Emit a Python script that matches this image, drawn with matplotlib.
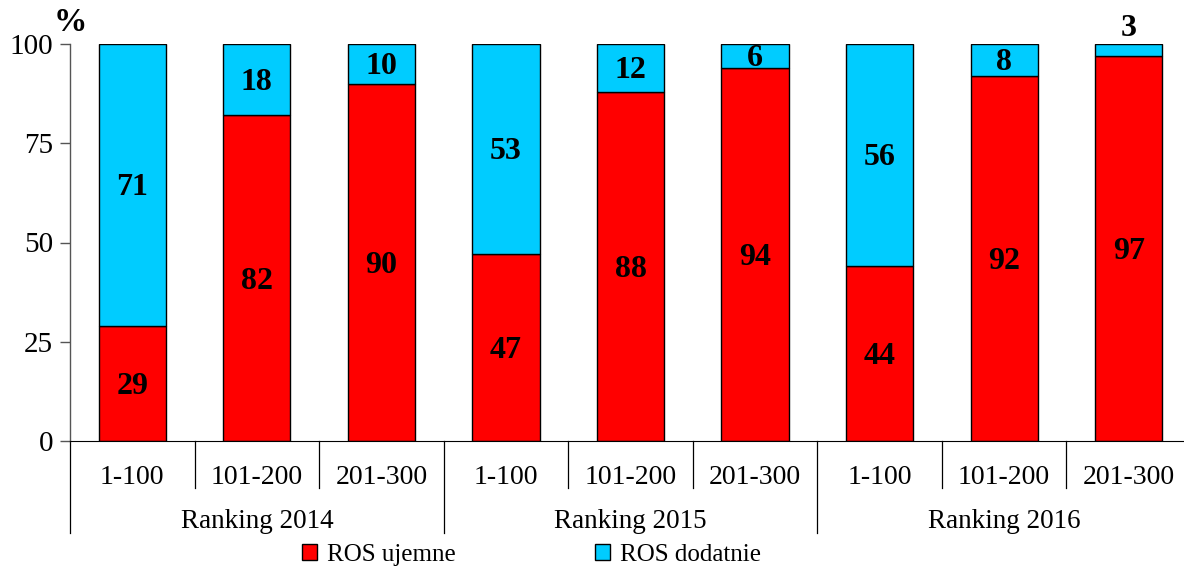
import matplotlib.pyplot as plt
import numpy as np

plt.rcParams['font.family'] = ['Liberation Serif', 'DejaVu Serif']

groups = ['Ranking 2014', 'Ranking 2015', 'Ranking 2016']
ranges = ['1-100', '101-200', '201-300']
ujemne = [29, 82, 90, 47, 88, 94, 44, 92, 97]
dodatnie = [71, 18, 10, 53, 12, 6, 56, 8, 3]

red = '#FF0000'
cyan = '#00CCFF'

fig = plt.figure(figsize=(11.84, 5.67), dpi=100)
ax = fig.add_axes([70 / 1184, 1 - 441 / 567, 1121 / 1184, 397 / 567])

x = np.arange(len(ujemne))
w = 0.54
ax.bar(x, ujemne, w, color=red, edgecolor='black', linewidth=1.0, label='ROS ujemne')
ax.bar(x, dodatnie, w, bottom=ujemne, color=cyan, edgecolor='black', linewidth=1.0,
       label='ROS dodatnie')

# value labels, centred in each segment (tiny segments get the label above)
for i in range(len(x)):
    ax.text(x[i], ujemne[i] / 2 - 0.8, str(ujemne[i]), ha='center', va='center',
            fontsize=23, fontweight='bold')
    if dodatnie[i] >= 5:
        ax.text(x[i], ujemne[i] + dodatnie[i] / 2 - 0.6, str(dodatnie[i]), ha='center',
                va='center', fontsize=23, fontweight='bold')
    else:
        ax.text(x[i], ujemne[i] + dodatnie[i] + 0.2, str(dodatnie[i]), ha='center',
                va='bottom', fontsize=23, fontweight='bold')

ax.set_xlim(-0.5, len(x) - 0.5)
ax.set_ylim(0, 100)
ax.set_yticks([0, 25, 50, 75, 100])
ax.tick_params(axis='y', labelsize=21, length=7, width=1, color='#555555', pad=5)
ax.set_xticks([])
for s in ['top', 'right']:
    ax.spines[s].set_visible(False)
ax.spines['left'].set_color('#555555')
ax.spines['bottom'].set_color('black')
ax.spines['left'].set_linewidth(1)

ax.text(-0.0, 1.015, '%', transform=ax.transAxes, ha='center', va='bottom',
        fontsize=24, fontweight='bold')

# two-level category axis
trans = ax.get_xaxis_transform()
for i in range(len(x)):
    ax.text(x[i], -0.093, ranges[i % 3], transform=trans, ha='center', va='center',
            fontsize=20)
for b in np.arange(-0.5, len(x), 1.0):
    big = (b + 0.5) % 3 == 0
    ax.plot([b, b], [0, -0.232 if big else -0.118], transform=trans, color='black',
            linewidth=0.9, clip_on=False)
for g, name in enumerate(groups):
    ax.text(3 * g + 1, -0.202, name, transform=trans, ha='center', va='center',
            fontsize=19.5)

fig.legend(loc='center', bbox_to_anchor=(0.449, 0.022), ncol=2, frameon=False,
           fontsize=18, handlelength=0.6, handleheight=0.6, columnspacing=5.6,
           handletextpad=0.4, borderpad=0)

fig.savefig('out.png', dpi=100)
